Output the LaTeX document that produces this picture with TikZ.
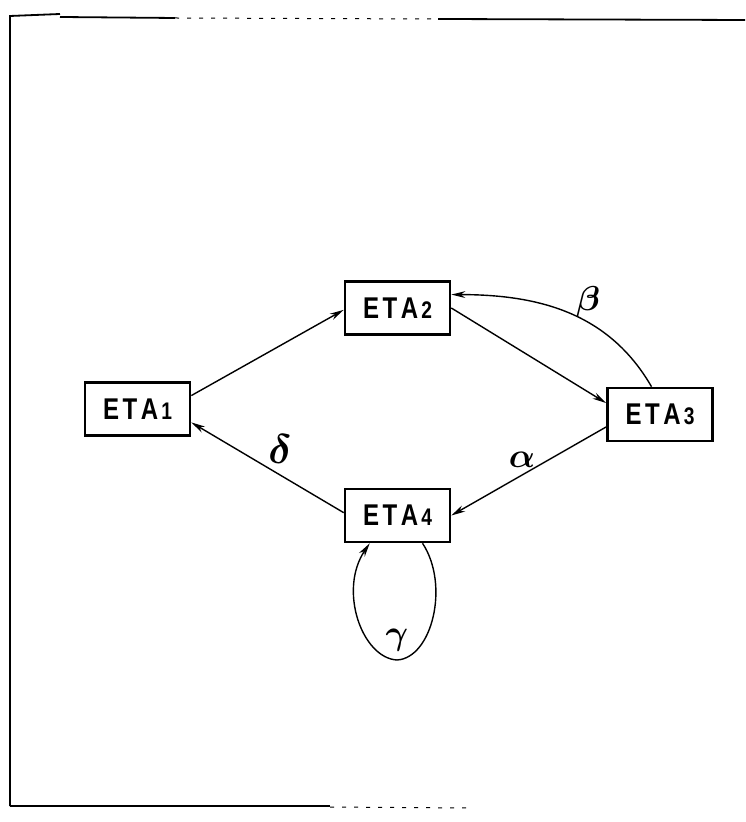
\documentclass[tikz,border=0pt]{standalone}
\usepackage{fontspec}
\usepackage{bm}
\usetikzlibrary{arrows.meta}
\newfontfamily\etafont[FakeStretch=0.8]{Liberation Sans}
\newcommand{\etalbl}[1]{{\etafont\bfseries E\hspace{1.8pt}T\hspace{1.8pt}A\hspace{1.5pt}{\fontsize{12}{12}\selectfont #1}}}
\tikzset{
  etabox/.style={draw, line width=1.3pt, minimum width=52.5pt, minimum height=26.5pt,
    inner sep=0pt, font=\fontsize{15}{17}\selectfont},
  link/.style={line width=0.7pt, -{Stealth[length=7pt,width=3.4pt]}},
  greek/.style={font=\fontsize{18}{20}\selectfont},
  rim/.style={line width=0.9pt},
  rimgap/.style={line width=0.5pt, dash pattern=on 2pt off 4pt}
}

\begin{document}
\begin{tikzpicture}[x=0.5pt, y=-0.5pt]
  \useasboundingbox (0,0) rectangle (745,822);
  % frame, only partly printed
  \draw[rim] (10,806) -- (10,16) -- (60,14);
  \draw[rim] (60,17) -- (175,18);
  \draw[rimgap] (175,18) -- (432,19);
  \draw[rim] (438,19) -- (745,20);
  \draw[rim] (10,806) -- (330,806);
  \draw[rimgap] (330,807) -- (470,808);
  % the four boxes
  \node[etabox] (eta1) at (137.5,409) {\etalbl{1}};
  \node[etabox] (eta2) at (397.5,308) {\etalbl{2}};
  \node[etabox] (eta3) at (660,414.5) {\etalbl{3}};
  \node[etabox] (eta4) at (397.5,515.5) {\etalbl{4}};
  % straight arrows round the ring
  \draw[link] (eta1.14) -- (eta2.182);
  \draw[link] (eta2.east) -- (eta3.168);
  \draw[link] (eta3.193) -- (eta4.east);
  \draw[link] (eta4.177) -- (eta1.346);
  % curved arrow back to ETA2 and self loop on ETA4
  \draw[link] (eta3.107) to[out=120, in=0] (eta2.14);
  \coordinate (looptip) at (397,660);
  \draw[link] (eta4.312) .. controls (450,585) and (432,658) .. (looptip)
    .. controls (362,658) and (338,590) .. (eta4.225);
  % greek labels
  \node[greek] (beta) at (588,302) {$\bm\beta$};
  \node[greek, font=\fontsize{16}{18}\selectfont] (alpha) at (522,460) {$\bm\alpha$};
  \node[greek, font=\fontsize{21}{23}\selectfont] (delta) at (280,449) {$\bm\delta$};
  \node[greek, font=\fontsize{17}{19}\selectfont] (gamma) at (397,640) {$\bm\gamma$};
\end{tikzpicture}
\end{document}
